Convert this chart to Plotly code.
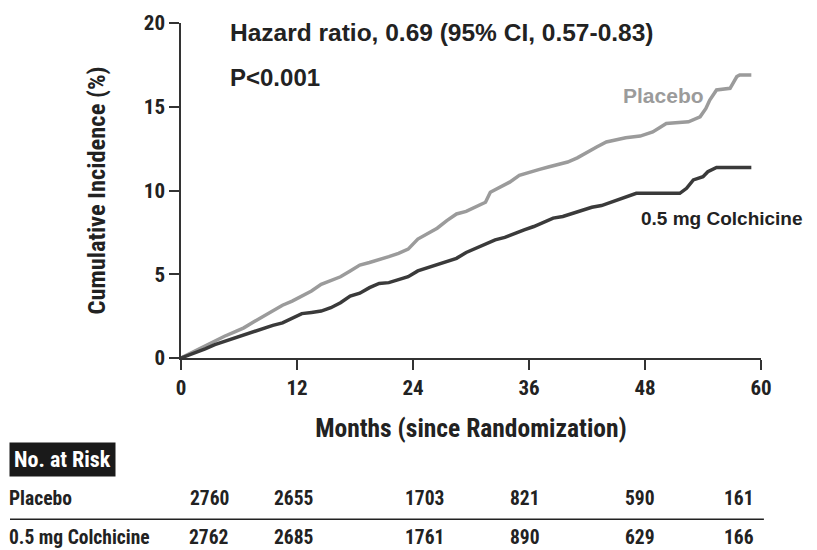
import plotly.graph_objects as go

# ---- data ----
placebo_months = [0, 0.5, 1.5, 2.5, 3.5, 4.5, 5.5, 6.5, 7.5, 8.5, 9.5, 10.5, 11.5, 12.5, 13.5,
                  14.5, 15.5, 16.5, 17.5, 18.5, 19.5, 20.5, 21.5, 22.5, 23.5, 24.5, 25.5, 26.5,
                  27.5, 28.5, 29.5, 30.5, 31.5, 32.0, 33.0, 34.0, 35.0, 36.0, 37.0, 38.0, 39.0,
                  40.0, 41.0, 42.0, 43.0, 44.0, 45.0, 46.0, 47.5, 48.8, 49.5, 50.2, 52.5, 53.7,
                  54.3, 54.7, 55.4, 56.8, 57.5, 57.8, 59.0]
placebo_pct = [0, 0.15, 0.45, 0.75, 1.0, 1.3, 1.55, 1.8, 2.15, 2.5, 2.85, 3.15, 3.4, 3.7, 4.0,
               4.4, 4.65, 4.85, 5.2, 5.55, 5.7, 5.85, 6.05, 6.25, 6.5, 7.1, 7.4, 7.75,
               8.2, 8.6, 8.75, 9.0, 9.3, 9.9, 10.2, 10.5, 10.9, 11.1, 11.25, 11.4, 11.55,
               11.7, 11.95, 12.3, 12.6, 12.9, 13.05, 13.15, 13.25, 13.5, 13.75, 14.0, 14.1, 14.4,
               14.9, 15.4, 16.0, 16.1, 16.8, 16.9, 16.9]

colch_months = [0, 0.5, 1.5, 2.5, 3.5, 4.5, 5.5, 6.5, 7.5, 8.5, 9.5, 10.5, 11.5, 12.5, 13.5,
                14.5, 15.5, 16.5, 17.5, 18.5, 19.5, 20.5, 21.5, 22.5, 23.5, 24.5, 25.5, 26.5,
                27.5, 28.5, 29.5, 30.5, 31.5, 32.5, 33.5, 34.5, 35.5, 36.5, 37.5, 38.5, 39.5,
                40.5, 41.5, 42.5, 43.5, 44.5, 45.5, 46.5, 47.1, 51.6, 52.3, 53.0, 54.0, 54.5,
                55.4, 59.0]
colch_pct = [0, 0.1, 0.35, 0.55, 0.8, 1.0, 1.2, 1.4, 1.6, 1.75, 1.95, 2.1, 2.4, 2.65, 2.72,
             2.8, 3.0, 3.3, 3.7, 3.87, 4.2, 4.45, 4.5, 4.65, 4.85, 5.2, 5.4, 5.55,
             5.75, 5.95, 6.3, 6.55, 6.8, 7.05, 7.2, 7.45, 7.65, 7.85, 8.1, 8.35, 8.45,
             8.65, 8.85, 9.0, 9.1, 9.3, 9.5, 9.75, 9.83, 9.83, 10.13, 10.63, 10.82, 11.12,
             11.38, 11.38]

risk_months = [0, 12, 24, 36, 48, 60]
risk_placebo = [2760, 2655, 1703, 821, 590, 161]
risk_colch = [2762, 2685, 1761, 890, 629, 166]
x_ticks = [0, 12, 24, 36, 48, 60]
y_ticks = [0, 5, 10, 15, 20]

NARROW = "Liberation Sans Narrow, Arial Narrow, Roboto Condensed, Liberation Sans, Arial, sans-serif"
SANS = "Liberation Sans, Arial, sans-serif"
DARK = "#222222"
GRAY = "#9b9b9b"

fig = go.Figure()
fig.add_trace(go.Scatter(x=placebo_months, y=placebo_pct, mode="lines", line_shape="linear",
                         line=dict(color=GRAY, width=3.5), name="Placebo", showlegend=False))
fig.add_trace(go.Scatter(x=colch_months, y=colch_pct, mode="lines", line_shape="linear",
                         line=dict(color="#3a3a3a", width=3.5), name="0.5 mg Colchicine",
                         showlegend=False))

# page body has an 8px margin, so the figure is 809x542 and margins are offset by 8px
fig.update_layout(
    width=809, height=542,
    margin=dict(l=173, r=56, t=15, b=192, autoexpand=False),
    plot_bgcolor="white", paper_bgcolor="white",
    font=dict(family=NARROW, color=DARK),
    xaxis=dict(range=[0, 60], tickvals=x_ticks, showgrid=False, zeroline=False,
               automargin=False,
               showline=True, linecolor="#333", linewidth=1.5,
               ticks="outside", ticklen=10, tickwidth=1.5, tickcolor="#333",
               tickfont=dict(family=NARROW, size=21, color=DARK, weight="bold"),
               title=dict(text="Months (since Randomization)", standoff=20,
                          font=dict(family=NARROW, size=25.5, color=DARK, weight="bold"))),
    yaxis=dict(range=[0, 20], tickvals=y_ticks, showgrid=False, zeroline=False,
               automargin=False,
               showline=True, linecolor="#333", linewidth=1.5,
               ticks="outside", ticklen=10, tickwidth=1.5, tickcolor="#333",
               tickfont=dict(family=NARROW, size=21, color=DARK, weight="bold"),
               title=dict(text="Cumulative Incidence (%)", standoff=31,
                          font=dict(family=NARROW, size=24.5, color=DARK, weight="bold"))),
)

ann = []
ann.append(dict(text="Hazard ratio, 0.69 (95% CI, 0.57-0.83)", xref="paper", yref="paper",
                x=0.081, y=0.973, xanchor="left", yanchor="middle", showarrow=False,
                font=dict(family=SANS, size=24.5, color=DARK, weight="bold")))
ann.append(dict(text="P<0.001", xref="paper", yref="paper",
                x=0.081, y=0.836, xanchor="left", yanchor="middle", showarrow=False,
                font=dict(family=SANS, size=24, color=DARK, weight="bold")))
ann.append(dict(text="Placebo", xref="paper", yref="paper",
                x=0.759, y=0.785, xanchor="left", yanchor="middle", showarrow=False,
                font=dict(family=SANS, size=21, color=GRAY, weight="bold")))
ann.append(dict(text="0.5 mg Colchicine", xref="paper", yref="paper",
                x=0.79, y=0.415, xanchor="left", yanchor="middle", showarrow=False,
                font=dict(family=SANS, size=19, color=DARK, weight="bold")))

# No. at Risk table
ann.append(dict(text="No. at Risk", xref="paper", yref="paper", x=(9 - 181) / 580, y=-0.304,
                xanchor="left", yanchor="middle", showarrow=False, bgcolor="#1a1a1a",
                borderpad=4,
                font=dict(family=NARROW, size=22, color="white", weight="bold")))
ann.append(dict(text="Placebo", xref="paper", yref="paper", x=(7 - 181) / 580, y=-0.418,
                xanchor="left", yanchor="middle", showarrow=False,
                font=dict(family=NARROW, size=19.5, color=DARK, weight="bold")))
ann.append(dict(text="0.5 mg Colchicine", xref="paper", yref="paper", x=(7 - 181) / 580, y=-0.536,
                xanchor="left", yanchor="middle", showarrow=False,
                font=dict(family=NARROW, size=19.5, color=DARK, weight="bold")))
shifts = [28, -3, 11, -4, -5, -22]
for m, p, c, s in zip(risk_months, risk_placebo, risk_colch, shifts):
    ann.append(dict(text=str(p), xref="x", yref="paper", x=m, y=-0.418, xshift=s,
                    xanchor="center", yanchor="middle", showarrow=False,
                    font=dict(family=NARROW, size=19.5, color=DARK, weight="bold")))
    ann.append(dict(text=str(c), xref="x", yref="paper", x=m, y=-0.536, xshift=s,
                    xanchor="center", yanchor="middle", showarrow=False,
                    font=dict(family=NARROW, size=19.5, color=DARK, weight="bold")))
fig.update_layout(annotations=ann)
fig.add_shape(type="line", xref="paper", yref="paper", x0=(10 - 181) / 580, x1=1.005,
              y0=-0.481, y1=-0.481, line=dict(color="#222", width=1.5))

fig.write_html("out.html")
